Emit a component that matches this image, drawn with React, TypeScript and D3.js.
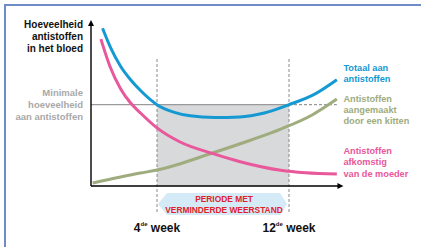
import React from 'react';
import * as d3 from 'd3';

// weeks (x) and antibody level (y, 0-100)
const totalWeeks = [0.7, 1.2, 1.8, 2.4, 3, 4, 5, 6, 7.5, 9, 10.5, 12, 13.5, 14.9];
const totalLevels = [95, 83, 72, 64, 57.5, 49, 44.5, 42.3, 41.3, 41.6, 44, 49, 55, 64];

const motherWeeks = [0.6, 1.15, 1.8, 2.4, 3, 4, 5.4, 7.4, 9.1, 11.5, 13, 14.9];
const motherLevels = [88.5, 72, 58.5, 50, 44, 35, 26.5, 19.5, 14.5, 9.5, 8, 7.2];

const kittenWeeks = [0.1, 3, 4, 7.4, 9.7, 11.5, 13.4, 14.9];
const kittenLevels = [1.8, 7.8, 9.6, 20, 27.7, 34.3, 42.8, 52.4];

const minimumLevel = 49;
const periodWeeks = [4, 12];
const weekLabels = ['4', '12'];

const yTitle = ['Hoeveelheid', 'antistoffen', 'in het bloed'];
const minLabel = ['Minimale', 'hoeveelheid', 'aan antistoffen'];
const totalLabel = ['Totaal aan', 'antistoffen'];
const kittenLabel = ['Antistoffen', 'aangemaakt', 'door een kitten'];
const motherLabel = ['Antistoffen', 'afkomstig', 'van de moeder'];
const periodLabel = ['PERIODE MET', 'VERMINDERDE WEERSTAND'];

const BLUE = '#1499d3';
const PINK = '#e8589b';
const GREEN = '#9eac7e';
const GREY = '#a9a9a9';
const FONT = '"Liberation Sans Narrow", "Arial Narrow", "Liberation Sans", sans-serif';

export default function App() {
  const width = 421;
  const height = 247;

  const x = d3.scaleLinear().domain([0, 16]).range([91, 355]);
  const y = d3.scaleLinear().domain([0, 100]).range([186, 20]);

  const line = d3.line<[number, number]>()
    .x(d => x(d[0]))
    .y(d => y(d[1]))
    .curve(d3.curveMonotoneX);

  const pts = (ws: number[], ls: number[]) => ws.map((w, i) => [w, ls[i]] as [number, number]);

  const x0 = x(0);
  const y0 = y(0);
  const xEnd = x(15.3);
  const yTop = y(100);
  const yMin = y(minimumLevel);
  const xa = x(periodWeeks[0]);
  const xb = x(periodWeeks[1]);
  const xLabel = x(15.3);

  // arrow-shaped label box under the period
  const by0 = 193, by1 = 215, bm = (by0 + by1) / 2;
  const box = [
    [xa + 1, bm], [xa + 10, by0], [xb - 9, by0], [xb - 2, bm], [xb - 9, by1], [xa + 10, by1],
  ].map(p => p.join(',')).join(' ');

  return (
    <svg width={width} height={height} style={{ position: 'absolute', left: 0, top: 0 }}
      fontFamily={FONT} fontWeight="bold">
      <rect x={0} y={0} width={width} height={height} fill="#fff" />
      <rect x={5} y={5} width={width + 10} height={height + 10} fill="none" stroke="#6f8bc8" strokeWidth={2} />

      {/* period of reduced resistance */}
      <rect x={xa} y={yMin} width={xb - xa} height={y0 - yMin} fill="#d8d9db" />
      <line x1={x0} x2={xb} y1={yMin} y2={yMin} stroke="#9a9a9a" strokeWidth={1.2} />
      <line x1={xb} x2={x(14.9)} y1={yMin} y2={yMin} stroke="#9a9a9a" strokeWidth={1.2} strokeDasharray="3,2" />
      {periodWeeks.map(w => (
        <line key={w} x1={x(w)} x2={x(w)} y1={59} y2={213} stroke="#8a8a8a" strokeWidth={1} strokeDasharray="3,2" />
      ))}

      {/* curves */}
      <path d={line(pts(kittenWeeks, kittenLevels)) || ''} fill="none" stroke={GREEN} strokeWidth={3} />
      <path d={line(pts(motherWeeks, motherLevels)) || ''} fill="none" stroke={PINK} strokeWidth={3} />
      <path d={line(pts(totalWeeks, totalLevels)) || ''} fill="none" stroke={BLUE} strokeWidth={3} />

      {/* axes */}
      <line x1={x0} x2={x0} y1={y0} y2={yTop + 4} stroke="#000" strokeWidth={1.4} />
      <line x1={x0} x2={xEnd - 4} y1={y0} y2={y0} stroke="#000" strokeWidth={1.4} />
      <polygon points={`${x0},${yTop} ${x0 - 3},${yTop + 6} ${x0 + 3},${yTop + 6}`} fill="#000" />
      <polygon points={`${xEnd},${y0} ${xEnd - 6},${y0 - 3} ${xEnd - 6},${y0 + 3}`} fill="#000" />

      {/* period label */}
      <polygon points={box} fill="#d4ebf7" />
      {periodLabel.map((t, i) => (
        <text key={t} x={(xa + xb) / 2 + 1} y={202 + i * 10.5} textAnchor="middle" fontSize={8.4} fill="#e2202b">{t}</text>
      ))}

      {/* week labels */}
      {periodWeeks.map((w, i) => (
        <text key={w} x={x(w)} y={232} textAnchor="middle" fontSize={12} fill="#111">
          {weekLabels[i]}
          <tspan fontSize={6} dy={-6}>de</tspan>
          <tspan dy={6}> week</tspan>
        </text>
      ))}

      {/* left labels */}
      {yTitle.map((t, i) => (
        <text key={t} x={83} y={27.5 + i * 12} textAnchor="end" fontSize={10} fill="#111">{t}</text>
      ))}
      {minLabel.map((t, i) => (
        <text key={t} x={83} y={95.5 + i * 12} textAnchor="end" fontSize={9.5} fill={GREY}>{t}</text>
      ))}

      {/* series labels */}
      {totalLabel.map((t, i) => (
        <text key={t} x={xLabel} y={70.5 + i * 11.5} fontSize={9.2} fill={BLUE}>{t}</text>
      ))}
      {kittenLabel.map((t, i) => (
        <text key={t} x={xLabel} y={102 + i * 11.2} fontSize={9.2} fill={GREEN}>{t}</text>
      ))}
      {motherLabel.map((t, i) => (
        <text key={t} x={xLabel} y={153.5 + i * 11.5} fontSize={9.2} fill={PINK}>{t}</text>
      ))}
    </svg>
  );
}
